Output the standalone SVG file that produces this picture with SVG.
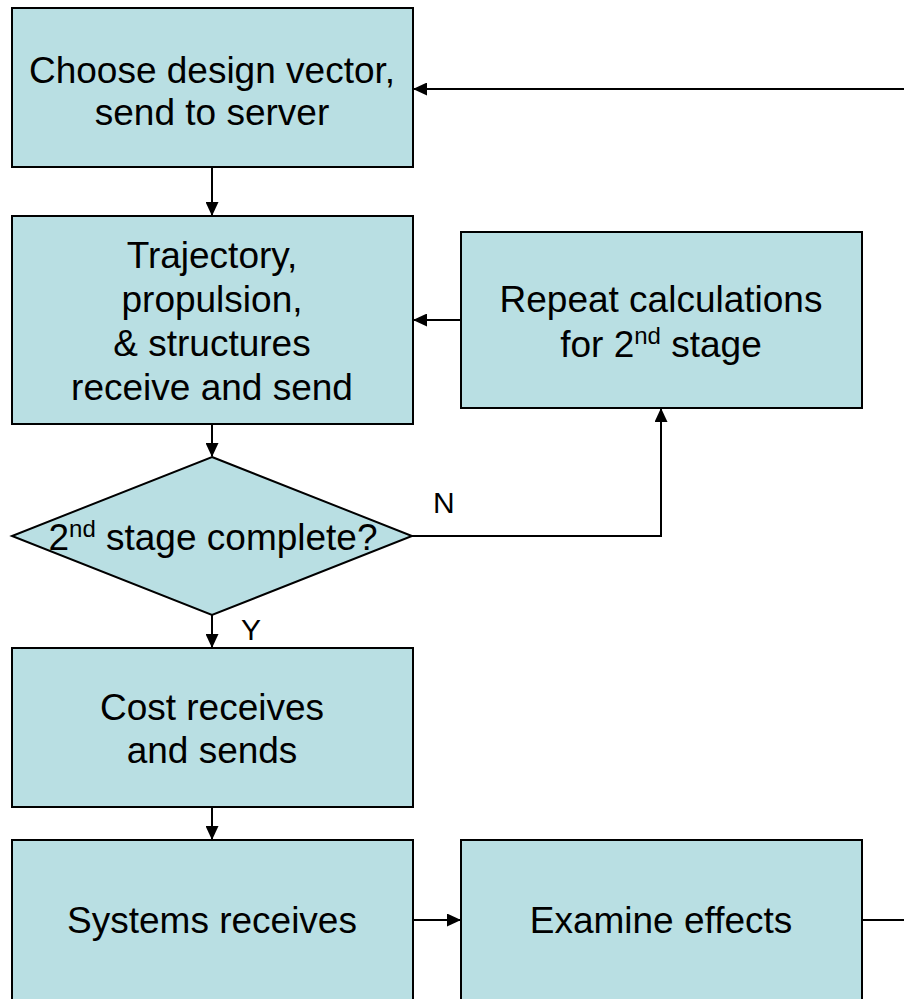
<svg xmlns="http://www.w3.org/2000/svg" width="904" height="999" viewBox="0 0 904 999">
<style>
.n{fill:#b9dfe3;stroke:#000;stroke-width:2}
.t{font-family:"Liberation Sans",Arial,sans-serif;font-size:37px;fill:#000;text-anchor:middle}
.s{font-size:24px}
.l{font-family:"Liberation Sans",Arial,sans-serif;font-size:30px;fill:#000}
.c{fill:none;stroke:#000;stroke-width:2}
</style>
<defs>
<marker id="b" markerWidth="14" markerHeight="13" refX="13" refY="6.5" orient="auto" markerUnits="userSpaceOnUse" viewBox="0 0 14 13">
<path d="M0,0 L14,6.5 L0,13 Z" fill="#000"/>
</marker>
</defs>
<rect width="904" height="999" fill="#fff"/>
<g id="connectors">
<path class="c" d="M212,167 V215" marker-end="url(#b)"/>
<path class="c" d="M904,89 H414" marker-end="url(#b)"/>
<path class="c" d="M461,320 H414" marker-end="url(#b)"/>
<path class="c" d="M212,424 V456" marker-end="url(#b)"/>
<path class="c" d="M412,536 H661 V409" marker-end="url(#b)"/>
<path class="c" d="M212,615 V647" marker-end="url(#b)"/>
<path class="c" d="M212,807 V839" marker-end="url(#b)"/>
<path class="c" d="M413,920 H460" marker-end="url(#b)"/>
<path class="c" d="M862,920 H904"/>
<text class="l" x="433" y="513">N</text>
<text class="l" x="241" y="640">Y</text>
</g>
<g id="choose">
<rect class="n" x="12" y="8" width="401" height="159"/>
<text class="t" x="212" y="83">Choose design vector,</text>
<text class="t" x="212" y="125">send to server</text>
</g>
<g id="trajectory">
<rect class="n" x="12" y="216" width="401" height="208"/>
<text class="t" x="212" y="268">Trajectory,</text>
<text class="t" x="212" y="312">propulsion,</text>
<text class="t" x="212" y="356">&amp; structures</text>
<text class="t" x="212" y="400">receive and send</text>
</g>
<g id="repeat">
<rect class="n" x="461" y="232" width="401" height="176"/>
<text class="t" x="661" y="312">Repeat calculations</text>
<text class="t" x="661" y="357">for 2<tspan class="s" dy="-13">nd</tspan><tspan dy="13"> stage</tspan></text>
</g>
<g id="decision">
<polygon class="n" points="212,457 412,536 212,615 12,536"/>
<text class="t" x="213" y="550">2<tspan class="s" dy="-13">nd</tspan><tspan dy="13"> stage complete?</tspan></text>
</g>
<g id="cost">
<rect class="n" x="12" y="648" width="401" height="159"/>
<text class="t" x="212" y="720">Cost receives</text>
<text class="t" x="212" y="763">and sends</text>
</g>
<g id="systems">
<rect class="n" x="12" y="840" width="401" height="170"/>
<text class="t" x="212" y="933">Systems receives</text>
</g>
<g id="examine">
<rect class="n" x="461" y="840" width="401" height="170"/>
<text class="t" x="661" y="933">Examine effects</text>
</g>
</svg>
